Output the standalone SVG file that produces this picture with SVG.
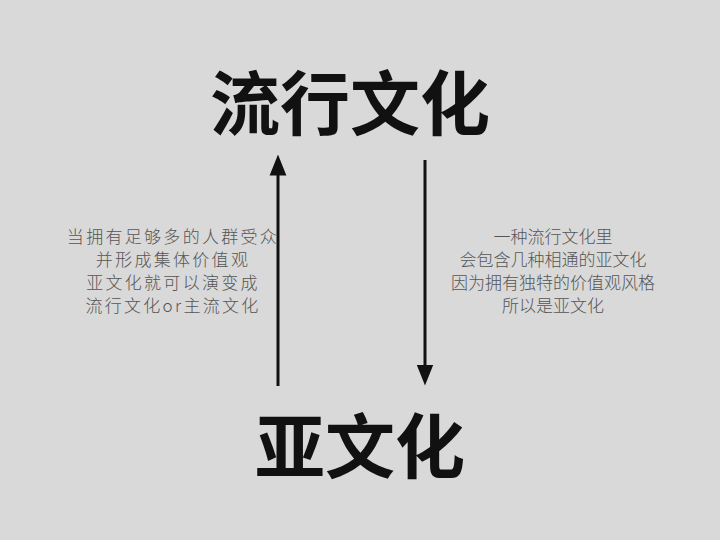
<svg xmlns="http://www.w3.org/2000/svg" width="720" height="540" viewBox="0 0 720 540">
<style>
.t{font-family:"Noto Sans CJK SC","Noto Sans CJK JP",sans-serif;font-weight:700;fill:#111;text-anchor:middle}
.d{font-family:"Noto Sans CJK SC",sans-serif;font-size:17px;font-weight:300;fill:#555;text-anchor:middle}
.w{letter-spacing:2.3px}
.c{stroke:#111;stroke-width:3;fill:none}
</style>
<defs><marker id="a" viewBox="0 0 10 10" refX="5" refY="5" markerWidth="7" markerHeight="7" orient="auto"><path d="M0,1 L10,5 L0,9 Z" fill="#111"/></marker></defs>
<rect width="720" height="540" fill="#d9d9d9"/>
<g id="n1"><text class="t" x="350" y="130" font-size="70">流行文化</text></g>
<g id="n2"><text class="t" x="360" y="473" font-size="70">亚文化</text></g>
<g id="connectors">
<line class="c" x1="278" y1="386" x2="278" y2="165" marker-end="url(#a)"/>
<line class="c" x1="425" y1="160" x2="425" y2="375" marker-end="url(#a)"/>
</g>
<g id="l1"><text class="d w" x="173" y="243">当拥有足够多的人群受众</text><text class="d w" x="173" y="266">并形成集体价值观</text><text class="d w" x="173" y="289">亚文化就可以演变成</text><text class="d w" x="173" y="312">流行文化or主流文化</text></g>
<g id="l2"><text class="d" x="553" y="243">一种流行文化里</text><text class="d" x="553" y="266">会包含几种相通的亚文化</text><text class="d" x="553" y="289">因为拥有独特的价值观风格</text><text class="d" x="553" y="312">所以是亚文化</text></g>
</svg>
